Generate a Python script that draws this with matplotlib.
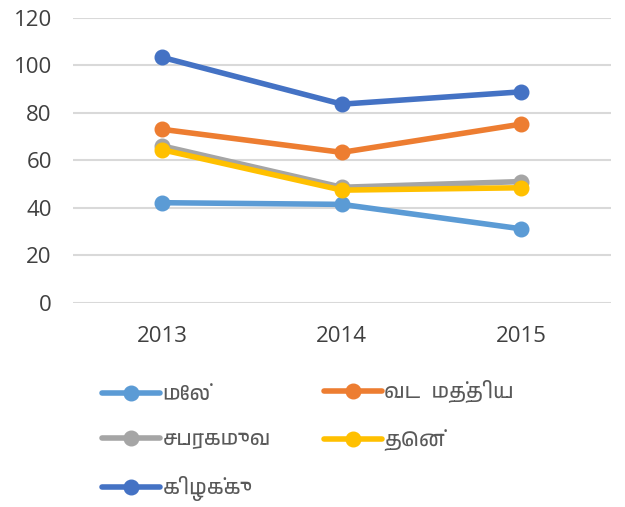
import matplotlib
matplotlib.use("Agg")
import matplotlib.pyplot as plt
from matplotlib import font_manager
from matplotlib.ft2font import FT2Font

years = ["2013", "2014", "2015"]
series_names = ["மேல்", "வட  மத்திய", "சபரகமுவ", "தென்", "கிழக்கு"]
mel = [42.1, 41.4, 31.1]
vada_mathiya = [73, 63.3, 75.2]
sabaragamuwa = [66, 48.6, 51]
then = [64.4, 47.4, 48.4]
kizhakku = [103.3, 83.6, 88.8]
colors = ["#5B9BD5", "#ED7D31", "#A5A5A5", "#FFC000", "#4472C4"]
y_ticks = [0, 20, 40, 60, 80, 100, 120]


def find_tamil_font():
    # pick an installed font that has Tamil letters, prefer a proportional sans
    found = []
    for path in font_manager.findSystemFonts():
        try:
            cmap = FT2Font(path).get_charmap()
        except Exception:
            continue
        if 0x0BAE in cmap and 0x0BC7 in cmap:
            found.append(path)
    if not found:
        return None

    def rank(p):
        n = p.lower()
        return ("tamil" not in n, "mono" in n, "serif" in n, "bold" in n, n)

    found.sort(key=rank)
    return font_manager.FontProperties(fname=found[0]).get_name()


tamil = find_tamil_font()
plt.rcParams["font.family"] = ["Open Sans", "DejaVu Sans"]
legend_family = ["Open Sans", "DejaVu Sans"]
if tamil:
    legend_family = [tamil] + legend_family

fig = plt.figure(figsize=(6.25, 5.07), dpi=100)
ax = fig.add_axes([0.1163, 0.403, 0.8613, 0.562])

x = range(len(years))
lines = []
for vals, name, c in zip([mel, vada_mathiya, sabaragamuwa, then, kizhakku],
                         series_names, colors):
    ln, = ax.plot(x, vals, color=c, lw=4, marker="o", ms=10.5, label=name,
                  solid_capstyle="round", solid_joinstyle="round")
    lines.append(ln)

ax.set_xlim(-0.5, 2.5)
ax.set_ylim(0, 120)
ax.set_yticks(y_ticks)
ax.set_xticks(list(x))
ax.set_xticklabels(years)
ax.yaxis.grid(True, color="#D9D9D9", lw=1.5)
ax.set_axisbelow(True)
for s in ax.spines.values():
    s.set_visible(False)
ax.tick_params(length=0, labelsize=16, colors="#404040")
ax.tick_params(axis="y", pad=15)
ax.tick_params(axis="x", pad=17)

# legend laid out row by row like the original: two columns
leg_font = font_manager.FontProperties(family=legend_family, size=15)
common = dict(frameon=False, prop=leg_font, handlelength=2.8,
              handletextpad=0.1, labelspacing=1.27, borderpad=0,
              borderaxespad=0, labelcolor="#595959", loc="center left")
fig.legend([lines[0], lines[2], lines[4]],
           [series_names[0], series_names[2], series_names[4]],
           bbox_to_anchor=(102 / 625, 1 - 443 / 507), **common)
fig.legend([lines[1], lines[3]], [series_names[1], series_names[3]],
           bbox_to_anchor=(324 / 625, 1 - 415.5 / 507), **common)

fig.savefig("out.png", dpi=100)
